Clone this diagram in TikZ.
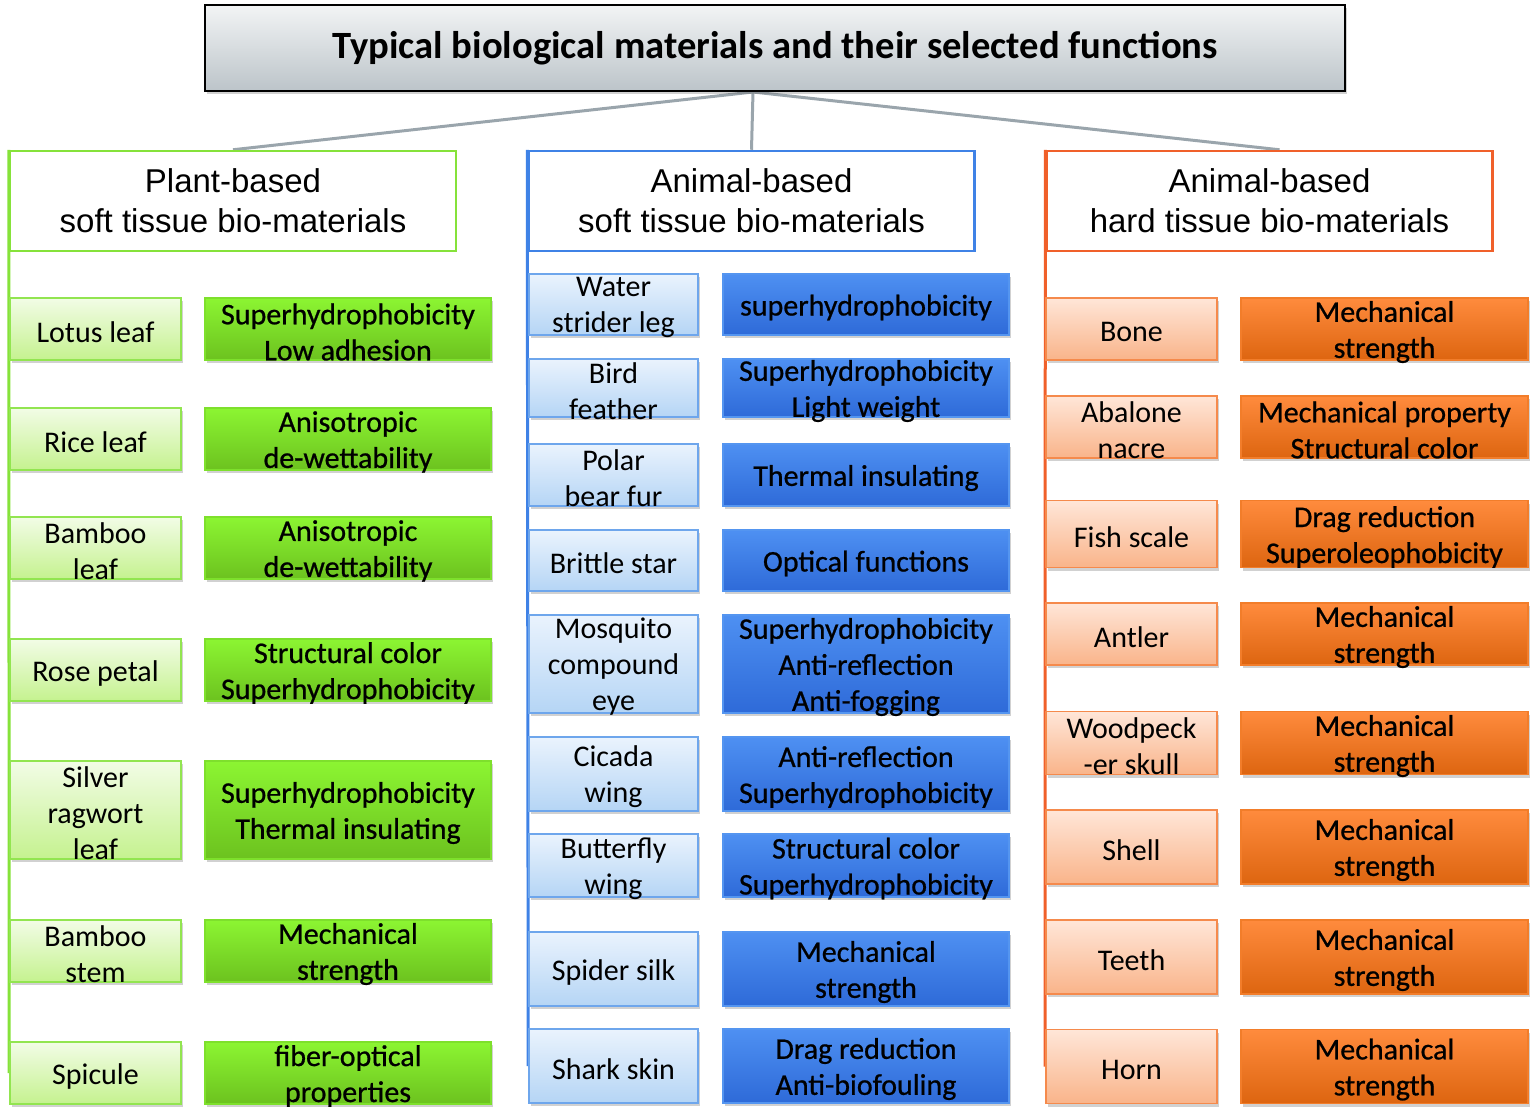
\documentclass[tikz,border=0pt]{standalone}
\usepackage{fontspec}
\setmainfont{Carlito}
\newfontfamily\hdfont{Liberation Sans}
\newfontfamily\heavyfont[FakeBold=0.7]{Carlito}
\usetikzlibrary{shadows,backgrounds,calc}
\definecolor{gLt}{HTML}{F2FCE6}\definecolor{gLb}{HTML}{C5F28F}\definecolor{gLd}{HTML}{92E550}
\definecolor{gRt}{HTML}{8CF532}\definecolor{gRb}{HTML}{6CC21F}\definecolor{gRd}{HTML}{7EE02C}
\definecolor{bLt}{HTML}{EAF3FD}\definecolor{bLb}{HTML}{B5D5F5}\definecolor{bLd}{HTML}{6EA6EC}
\definecolor{bRt}{HTML}{4E90F2}\definecolor{bRb}{HTML}{2E6AD8}\definecolor{bRd}{HTML}{5495F0}
\definecolor{oLt}{HTML}{FFE6D8}\definecolor{oLb}{HTML}{F9B48A}\definecolor{oLd}{HTML}{F58A4C}
\definecolor{oRt}{HTML}{FF8B3D}\definecolor{oRb}{HTML}{DD6510}\definecolor{oRd}{HTML}{F27D2A}
\definecolor{gH}{HTML}{86E23A}\definecolor{bH}{HTML}{3F82E6}\definecolor{oH}{HTML}{F0602A}
\definecolor{tTop}{HTML}{F2F4F5}\definecolor{tBot}{HTML}{BCC4C9}
\definecolor{connc}{HTML}{9AA5AC}
\begin{document}
\begin{tikzpicture}[x=1pt,y=-1pt,
  box/.style={rectangle, inner sep=0pt, line width=1.6pt,
    drop shadow={shadow xshift=2pt, shadow yshift=-3pt, opacity=0.3, fill=black!60}},
  lbl/.style={align=center, inner sep=0pt, yshift=-3pt, font=\fontsize{30}{36}\selectfont},
  lblh/.style={lbl, font=\heavyfont\fontsize{30}{36}\selectfont},
  t/.style={label={[lbl]center:{#1}}},
  th/.style={label={[lblh]center:{#1}}},
  gL/.style={box, draw=gLd, top color=gLt, bottom color=gLb, minimum width=171pt},
  gR/.style={box, draw=gRd, top color=gRt, bottom color=gRb, minimum width=286pt},
  bL/.style={box, draw=bLd, top color=bLt, bottom color=bLb, minimum width=169pt},
  bR/.style={box, draw=bRd, top color=bRt, bottom color=bRb, minimum width=286pt},
  oL/.style={box, draw=oLd, top color=oLt, bottom color=oLb, minimum width=171pt},
  oR/.style={box, draw=oRd, top color=oRt, bottom color=oRb, minimum width=287pt},
  hd/.style={rectangle, fill=white, line width=2.5pt, minimum width=446pt, minimum height=100pt,
    align=center, inner sep=0pt, font=\hdfont\fontsize{33}{40}\selectfont},
  conn/.style={connc, line width=3pt},
  vline/.style={line width=3pt},
]
\useasboundingbox (0,0) rectangle (1537,1117);

% title
\node[draw=black, line width=2pt, top color=tTop, bottom color=tBot,
  minimum width=1140pt, minimum height=86pt, inner sep=0pt,
  drop shadow={shadow xshift=2pt, shadow yshift=-3pt, opacity=0.3, fill=black!60},
  font=\bfseries\fontsize{38.6}{44}\selectfont] (title) at (775,48)
  {\raisebox{-2pt}{Typical biological materials and their selected functions}};

% headers
\node[hd, draw=gH] (gh) at (233,201) {Plant-based\\soft tissue bio-materials};
\node[hd, draw=bH] (bh) at (751.5,201) {Animal-based\\soft tissue bio-materials};
\node[hd, draw=oH] (oh) at (1269.5,201) {Animal-based\\hard tissue bio-materials};

% green column
\node[gL, minimum height=62pt, t={Lotus leaf}] (g1) at (95.5,329) {};
\node[gR, minimum height=62pt, th={Superhydrophobicity\\Low adhesion}] (gr1) at (348,329) {};
\node[gL, minimum height=62pt, t={Rice leaf}] (g2) at (95.5,439) {};
\node[gR, minimum height=62pt, th={Anisotropic\\de-wettability}] (gr2) at (348,439) {};
\node[gL, minimum height=62pt, t={Bamboo\\leaf}] (g3) at (95.5,548) {};
\node[gR, minimum height=62pt, th={Anisotropic\\de-wettability}] (gr3) at (348,548) {};
\node[gL, minimum height=62pt, t={Rose petal}] (g4) at (95.5,670) {};
\node[gR, minimum height=62pt, th={Structural color\\Superhydrophobicity}] (gr4) at (348,670) {};
\node[gL, minimum height=98pt, t={Silver\\ragwort\\leaf}] (g5) at (95.5,810) {};
\node[gR, minimum height=98pt, th={Superhydrophobicity\\Thermal insulating}] (gr5) at (348,810) {};
\node[gL, minimum height=62pt, t={Bamboo\\stem}] (g6) at (95.5,951) {};
\node[gR, minimum height=62pt, th={Mechanical\\strength}] (gr6) at (348,951) {};
\node[gL, minimum height=62pt, t={Spicule}] (g7) at (95.5,1073) {};
\node[gR, minimum height=62pt, th={fiber-optical\\properties}] (gr7) at (348,1073) {};

% blue column
\node[bL, minimum height=61pt, t={Water\\strider leg}] (b1) at (613.5,304.5) {};
\node[bR, minimum height=61pt, th={superhydrophobicity}] (br1) at (866,304.5) {};
\node[bL, minimum height=58pt, t={Bird\\feather}] (b2) at (613.5,388) {};
\node[bR, minimum height=58pt, th={Superhydrophobicity\\Light weight}] (br2) at (866,388) {};
\node[bL, minimum height=62pt, t={Polar\\bear fur}] (b3) at (613.5,475) {};
\node[bR, minimum height=62pt, th={Thermal insulating}] (br3) at (866,475) {};
\node[bL, minimum height=61pt, t={Brittle star}] (b4) at (613.5,560.5) {};
\node[bR, minimum height=61pt, th={Optical functions}] (br4) at (866,560.5) {};
\node[bL, minimum height=98pt, t={Mosquito\\compound\\eye}] (b5) at (613.5,664) {};
\node[bR, minimum height=98pt, th={Superhydrophobicity\\Anti-reflection\\Anti-fogging}] (br5) at (866,664) {};
\node[bL, minimum height=74pt, t={Cicada\\wing}] (b6) at (613.5,774) {};
\node[bR, minimum height=74pt, th={Anti-reflection\\Superhydrophobicity}] (br6) at (866,774) {};
\node[bL, minimum height=63pt, t={Butterfly\\wing}] (b7) at (613.5,865.5) {};
\node[bR, minimum height=63pt, th={Structural color\\Superhydrophobicity}] (br7) at (866,865.5) {};
\node[bL, minimum height=74pt, t={Spider silk}] (b8) at (613.5,969) {};
\node[bR, minimum height=74pt, th={Mechanical\\strength}] (br8) at (866,969) {};
\node[bL, minimum height=74pt, t={Shark skin}] (b9) at (613.5,1066) {};
\node[bR, minimum height=74pt, th={Drag reduction\\Anti-biofouling}] (br9) at (866,1066) {};

% orange column
\node[oL, minimum height=62pt, t={Bone}] (o1) at (1131.5,329) {};
\node[oR, minimum height=62pt, th={Mechanical\\strength}] (or1) at (1384.5,329) {};
\node[oL, minimum height=62pt, t={Abalone\\nacre}] (o2) at (1131.5,427) {};
\node[oR, minimum height=62pt, th={Mechanical property\\Structural color}] (or2) at (1384.5,427) {};
\node[oL, minimum height=67pt, t={Fish scale}] (o3) at (1131.5,534) {};
\node[oR, minimum height=67pt, th={Drag reduction\\Superoleophobicity}] (or3) at (1384.5,534) {};
\node[oL, minimum height=62pt, t={Antler}] (o4) at (1131.5,634) {};
\node[oR, minimum height=62pt, th={Mechanical\\strength}] (or4) at (1384.5,634) {};
\node[oL, minimum height=63pt, t={Woodpeck\\-er skull}] (o5) at (1131.5,743) {};
\node[oR, minimum height=63pt, th={Mechanical\\strength}] (or5) at (1384.5,743) {};
\node[oL, minimum height=74pt, t={Shell}] (o6) at (1131.5,847) {};
\node[oR, minimum height=74pt, th={Mechanical\\strength}] (or6) at (1384.5,847) {};
\node[oL, minimum height=74pt, t={Teeth}] (o7) at (1131.5,957) {};
\node[oR, minimum height=74pt, th={Mechanical\\strength}] (or7) at (1384.5,957) {};
\node[oL, minimum height=74pt, t={Horn}] (o8) at (1131.5,1066.5) {};
\node[oR, minimum height=74pt, th={Mechanical\\strength}] (or8) at (1384.5,1066.5) {};

\begin{scope}[on background layer]
  \coordinate (hub) at ($(title.south)+(-22,0)$);
  \draw[conn] (hub) -- (gh.north);
  \draw[conn] (hub) -- (bh.north);
  \draw[conn] (hub) -- ($(oh.north)+(10,0)$);
  \draw[vline, gH] (gh.north west) -- (g7.west);
  \draw[vline, bH] (bh.north west) -- (b9.west);
  \draw[vline, oH] (oh.north west) -- (o8.west);
\end{scope}
\end{tikzpicture}
\end{document}
